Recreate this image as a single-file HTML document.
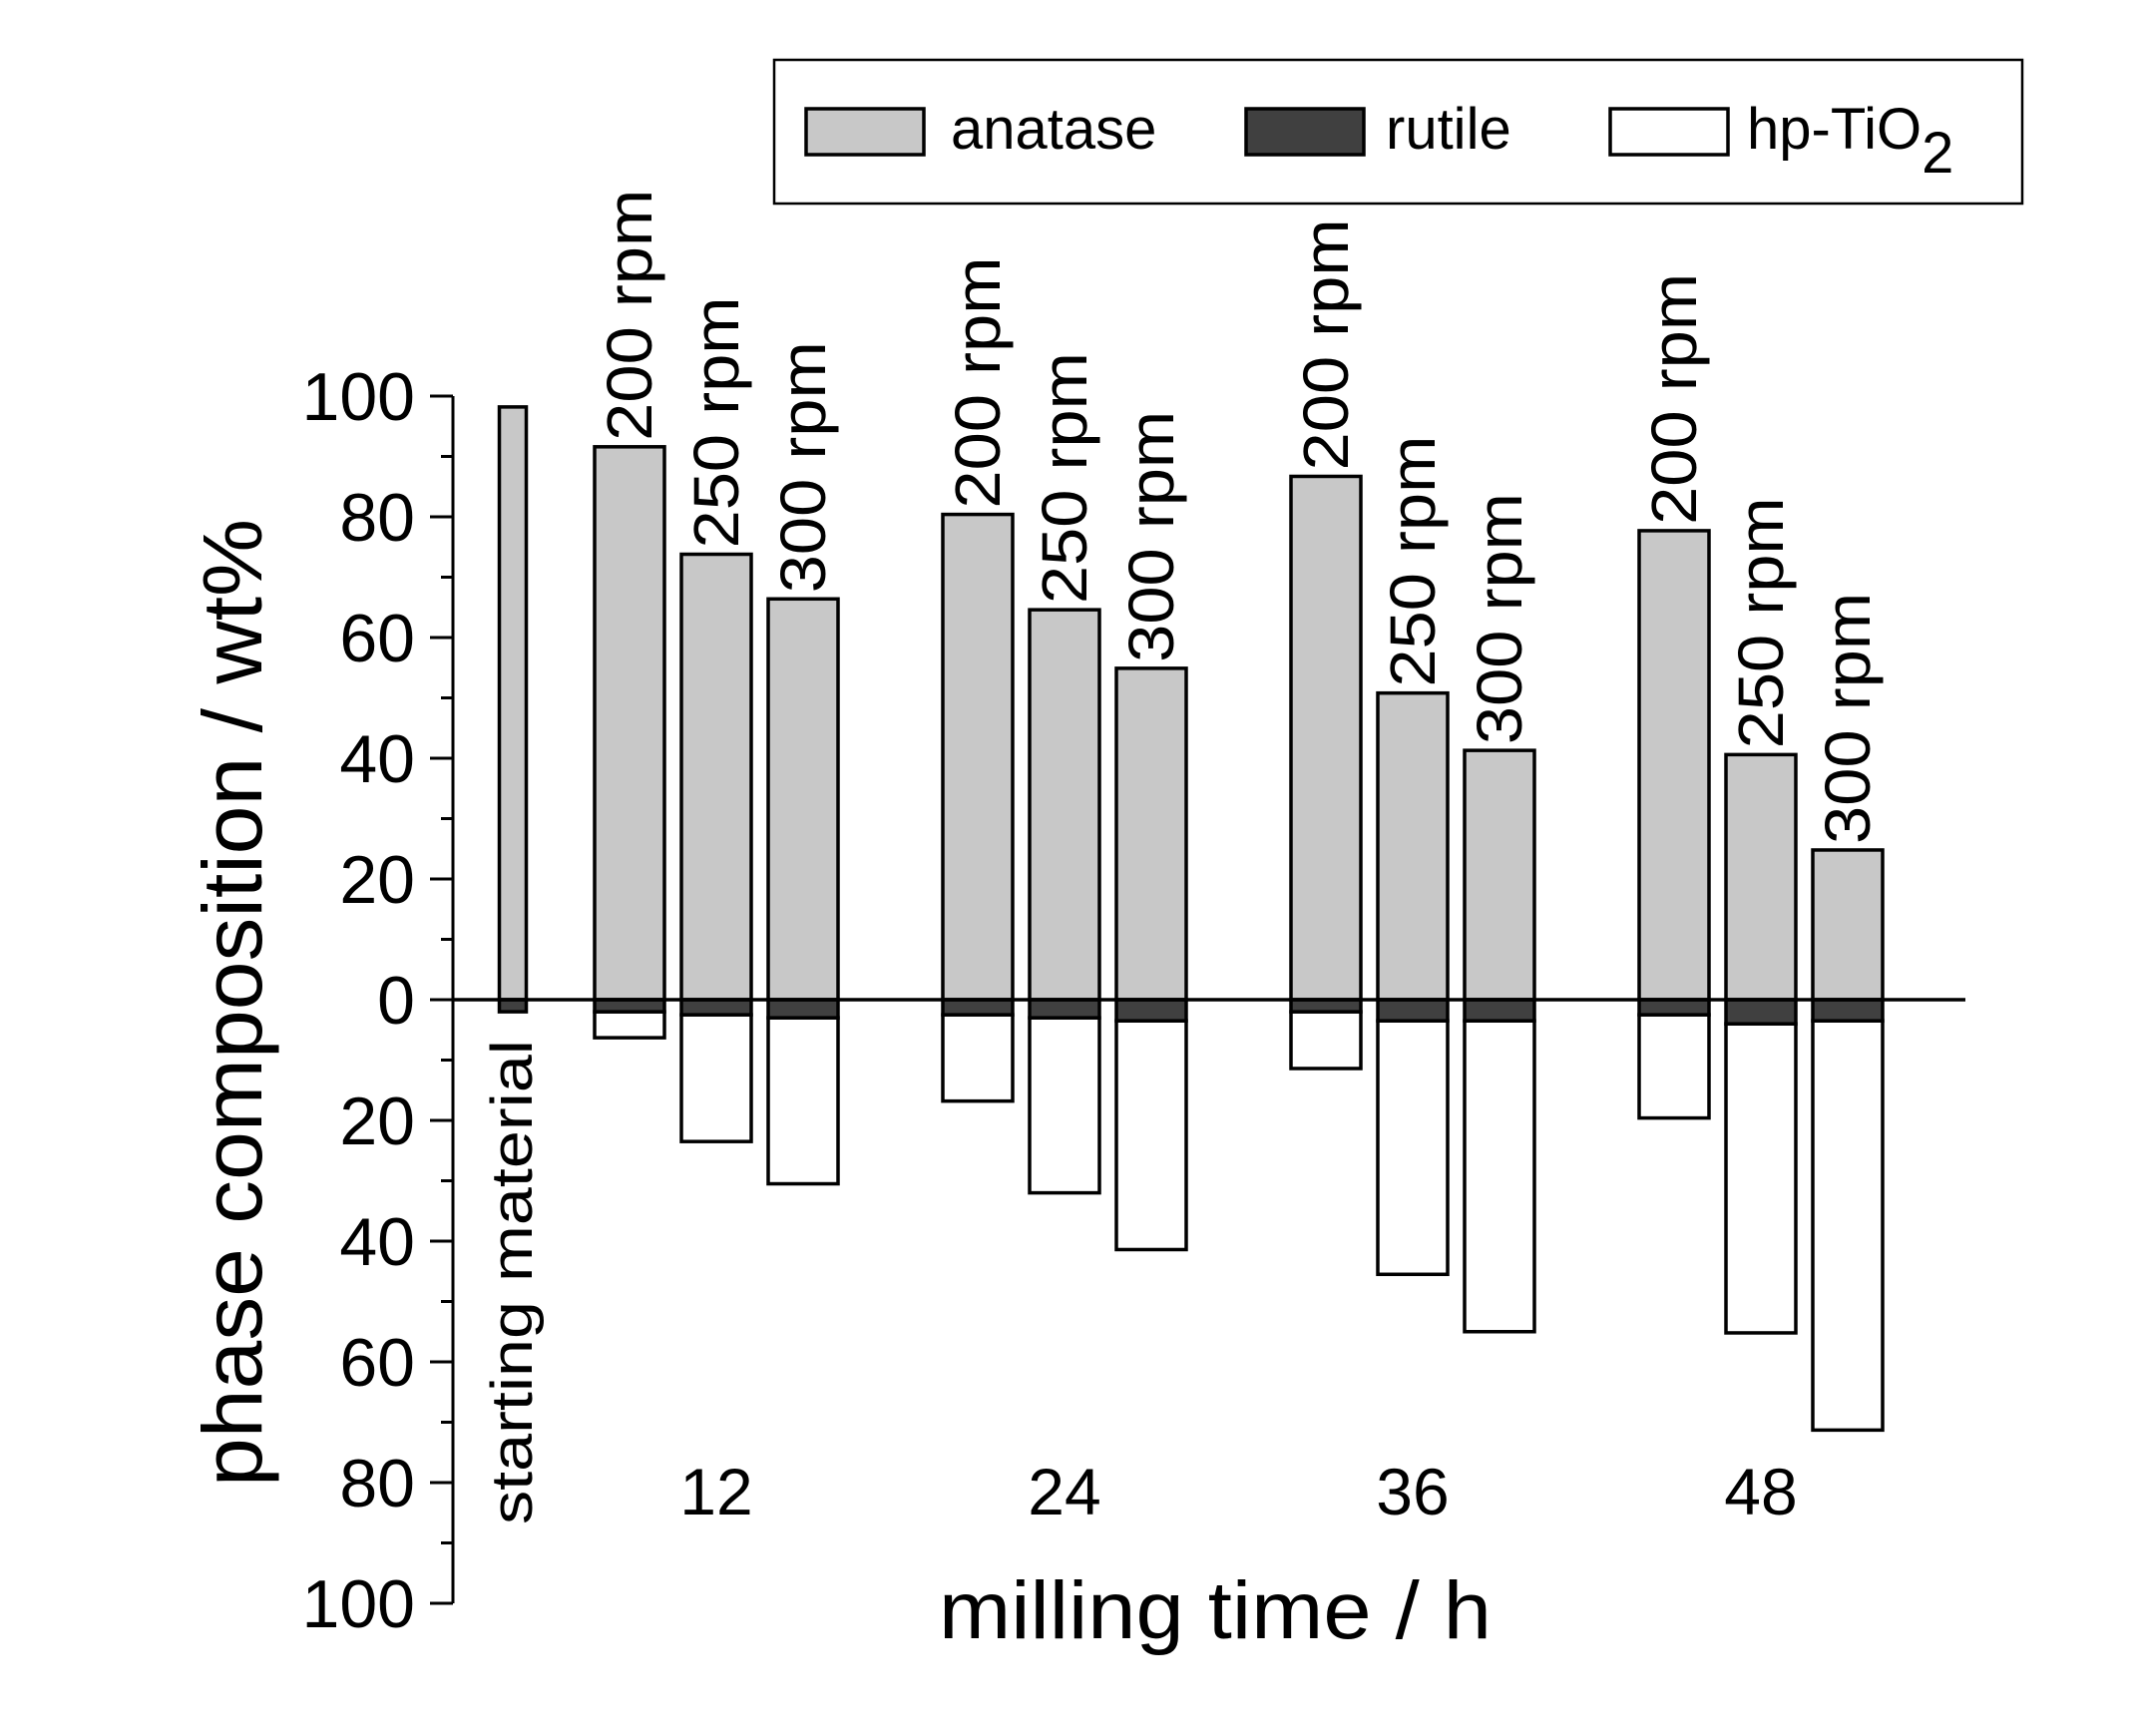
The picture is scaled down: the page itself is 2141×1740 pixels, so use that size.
<!DOCTYPE html>
<html><head><meta charset="utf-8"><style>
html,body{margin:0;padding:0;background:#fff;}
svg{display:block;font-family:"Liberation Sans",Arial,sans-serif;}
</style></head><body>
<svg id="chart" width="2141" height="1740" viewBox="0 0 2141 1740" xmlns="http://www.w3.org/2000/svg">
<g>
  <rect x="776" y="60" width="1251" height="144" fill="#fff" stroke="#000" stroke-width="2.5"/>
  <rect x="808" y="109" width="118" height="46" fill="#c8c8c8" stroke="#000" stroke-width="3.5"/>
  <text x="953" y="149" font-size="58">anatase</text>
  <rect x="1249" y="109" width="118" height="46" fill="#404040" stroke="#000" stroke-width="3.5"/>
  <text x="1389" y="149" font-size="58">rutile</text>
  <rect x="1614" y="109" width="118" height="46" fill="#fff" stroke="#000" stroke-width="3.5"/>
  <text x="1751" y="149" font-size="58">hp-TiO<tspan dy="24" font-size="58">2</tspan></text>
</g>
<g id="plot"></g>
</svg>
<script>
const categories = ["starting material","12","24","36","48"];
const rpmLabels = ["200 rpm","250 rpm","300 rpm"];
const anatase = [[98.2],[91.6,73.8,66.4],[80.4,64.6,54.9],[86.7,50.8,41.3],[77.7,40.6,24.8]];
const rutile = [[2],[2,2.5,3],[2.5,3,3.5],[2,3.5,3.5],[2.5,4,3.5]];
const hpTotal = [[0],[6.3,23.5,30.5],[16.8,32,41.4],[11.4,45.5,55],[19.6,55.2,71.3]];
const yTicks = [100,80,60,40,20,0,20,40,60,80,100];

const NS="http://www.w3.org/2000/svg";
const plot=document.getElementById('plot');
const Y0=1002, PXU=6.05, AXX=454;
function y(v){return Y0 - v*PXU;}
function groupCenter(i){return i===0?514:718+(i-1)*349;}
function mk(tag,attrs,parent){const e=document.createElementNS(NS,tag);for(const k in attrs)e.setAttribute(k,attrs[k]);(parent||plot).appendChild(e);return e;}

let ax=mk('line',{x1:AXX,y1:y(100),x2:AXX,y2:y(-100),stroke:'#000','stroke-width':3});


for(let v=100;v>=-100;v-=10){
  const major=(v%20===0);
  const t=mk('line',{x1:AXX-(major?23:12),y1:y(v),x2:AXX,y2:y(v),stroke:'#000','stroke-width':3});
  
  
}
yTicks.forEach((lab,i)=>{
  const v=100-i*20;
  const t=mk('text',{x:AXX-38,y:y(v)+24,'font-size':68,'text-anchor':'end'});
  t.textContent=lab;
  
  
});
const yt=mk('text',{x:0,y:0,'font-size':84,'text-anchor':'middle',transform:'translate(262,1005) rotate(-90)',textLength:970,lengthAdjust:'spacingAndGlyphs'});
yt.textContent='phase composition / wt%';



categories.forEach((cat,i)=>{
  const n=anatase[i].length;
  const w=(i===0)?27:70;
  anatase[i].forEach((a,j)=>{
    const cx=(n===1)?groupCenter(i):groupCenter(i)+(j-1)*87;
    const x=cx-w/2;
    const r=rutile[i][j], h=hpTotal[i][j];
    if(h>r){
      const b=mk('rect',{x:x,y:y(-r),width:w,height:(h-r)*PXU,fill:'#fff',stroke:'#000','stroke-width':3.5});
      
      
    }
    const ba=mk('rect',{x:x,y:y(a),width:w,height:a*PXU,fill:'#c8c8c8',stroke:'#000','stroke-width':3.5});
    
    
    const br=mk('rect',{x:x,y:y(0),width:w,height:r*PXU,fill:'#404040',stroke:'#000','stroke-width':3.5});
    
    
    if(n>1){
      const tl=mk('text',{x:0,y:0,'font-size':64,transform:'translate('+(cx+22)+','+(y(a)-6)+') rotate(-90)',textLength:252,lengthAdjust:'spacingAndGlyphs'});
      tl.textContent=rpmLabels[j];
      
      
    }
  });
  if(i===0){
    const s=mk('text',{x:0,y:0,'font-size':58,transform:'translate(533,1528) rotate(-90)',textLength:486,lengthAdjust:'spacingAndGlyphs'});
    s.textContent=cat;
    
    
  } else {
    const c=mk('text',{x:groupCenter(i),y:1518,'font-size':66,'text-anchor':'middle'});
    c.textContent=cat;
    
    
  }
});
const zl=mk('line',{x1:AXX,y1:Y0,x2:1970,y2:Y0,stroke:'#000','stroke-width':3.5});


const xt=mk('text',{x:1218,y:1642,'font-size':82,'text-anchor':'middle',textLength:554,lengthAdjust:'spacingAndGlyphs'});
xt.textContent='milling time / h';


</script>
</body></html>
